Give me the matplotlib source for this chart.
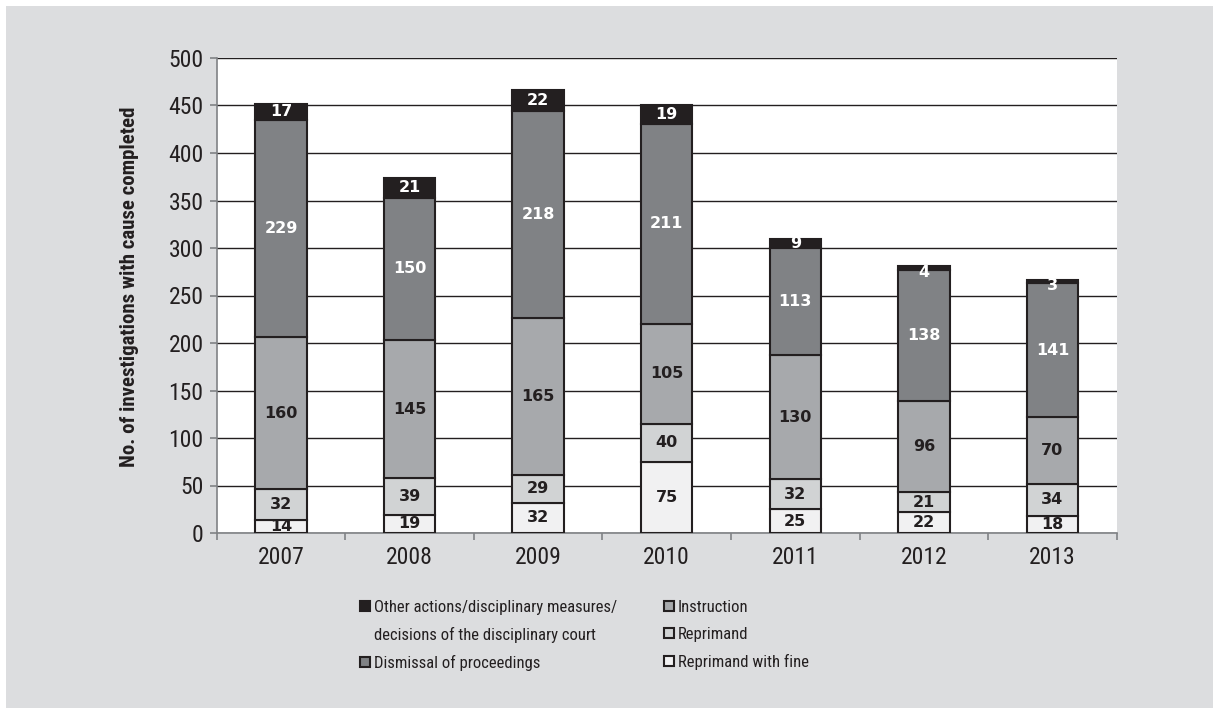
import numpy as np
import matplotlib
matplotlib.use('Agg')
import matplotlib.pyplot as plt
from matplotlib import font_manager
from matplotlib.patches import Rectangle

years = ['2007', '2008', '2009', '2010', '2011', '2012', '2013']
fine = [14, 19, 32, 75, 25, 22, 18]
reprimand = [32, 39, 29, 40, 32, 21, 34]
instruction = [160, 145, 165, 105, 130, 96, 70]
dismissal = [229, 150, 218, 211, 113, 138, 141]
other = [17, 21, 22, 19, 9, 4, 3]

series = [
    ('Reprimand with fine', fine, '#f1f1f2', '#231f20'),
    ('Reprimand', reprimand, '#d1d3d4', '#231f20'),
    ('Instruction', instruction, '#a7a9ac', '#231f20'),
    ('Dismissal of proceedings', dismissal, '#808285', 'white'),
    ('Other actions', other, '#231f20', 'white'),
]


def narrow_family():
    # a narrow sans face if one is installed, plain Liberation Sans otherwise
    names = {f.name for f in font_manager.fontManager.ttflist}
    for n in ['Liberation Sans Narrow', 'Roboto Condensed', 'Noto Sans Condensed',
              'DejaVu Sans Condensed', 'Open Sans Condensed']:
        if n in names:
            return n
    for n in sorted(names):
        if ('Narrow' in n or 'Condensed' in n) and 'Serif' not in n and 'Mono' not in n:
            return n
    return 'Liberation Sans'


narrow = narrow_family()
plt.rcParams['font.family'] = [narrow, 'DejaVu Sans']

fig = plt.figure(figsize=(12.13, 7.08), dpi=100)
fig.patch.set_facecolor('white')
fig.patches.append(Rectangle((6/1213, 0), 1, 1 - 6/708, transform=fig.transFigure,
                             facecolor='#dcdddf', edgecolor='none', zorder=-10))

ax = fig.add_axes([216.7/1213, 1 - 533/708, 900/1213, 475/708])
ax.set_facecolor('white')

x = np.arange(len(years))
bottom = np.zeros(len(years))
handles = {}
for name, vals, col, tcol in series:
    vals = np.array(vals, dtype=float)
    bars = ax.bar(x, vals, 0.4, bottom=bottom, color=col, edgecolor='#231f20',
                  linewidth=1.5, zorder=3)
    handles[name] = bars
    for xi, b, v in zip(x, bottom, vals):
        yc = b + v / 2
        if v < 6:
            yc = b - 3
        ax.text(xi, yc, '%d' % v, ha='center', va='center', color=tcol,
                fontsize=11.5, fontweight='bold', family='DejaVu Sans', zorder=4)
    bottom += vals

ax.set_xlim(-0.5, len(years) - 0.5)
ax.set_ylim(0, 500)
ax.set_yticks(np.arange(0, 501, 50))
ax.yaxis.grid(True, color='#231f20', linewidth=1)
ax.set_axisbelow(True)

ax.set_xticks(np.arange(-0.5, len(years), 1))
ax.set_xticklabels([])
ax.set_xticks(x, minor=True)
ax.set_xticklabels(years, minor=True, fontsize=17)
ax.tick_params(axis='x', which='major', length=5, color='#808285', width=1.2)
ax.tick_params(axis='x', which='minor', length=0, pad=9, colors='#231f20')
ax.tick_params(axis='y', length=5, color='#808285', width=1.2, pad=4.5,
               labelsize=17, labelcolor='#231f20')

for s in ['top', 'right']:
    ax.spines[s].set_visible(False)
for s in ['left', 'bottom']:
    ax.spines[s].set_color('#808285')
    ax.spines[s].set_linewidth(1.2)

ax.set_ylabel('No. of investigations with cause completed', fontsize=15,
              fontweight='bold', color='#231f20')
ax.yaxis.set_label_coords(-0.086, 0.518)

# legend in two columns, the first label wraps onto a second line
blank = Rectangle((0, 0), 1, 1, facecolor='none', edgecolor='none')
left_h = [handles['Other actions'], blank, handles['Dismissal of proceedings']]
left_l = ['Other actions/disciplinary measures/',
          'decisions of the disciplinary court', 'Dismissal of proceedings']
right_h = [handles['Instruction'], handles['Reprimand'], handles['Reprimand with fine']]
right_l = ['Instruction', 'Reprimand', 'Reprimand with fine']

kw = dict(frameon=False, fontsize=12, handlelength=0.6, handleheight=0.6,
          handletextpad=0.22, labelspacing=0.72, borderpad=0, borderaxespad=0,
          labelcolor='#231f20')
fig.legend(left_h, left_l, loc='upper left',
           bbox_to_anchor=(360/1213, 1 - 600/708), **kw)
fig.legend(right_h, right_l, loc='upper left',
           bbox_to_anchor=(664/1213, 1 - 600/708), **kw)

fig.savefig('out.png', dpi=100, facecolor=fig.get_facecolor())
